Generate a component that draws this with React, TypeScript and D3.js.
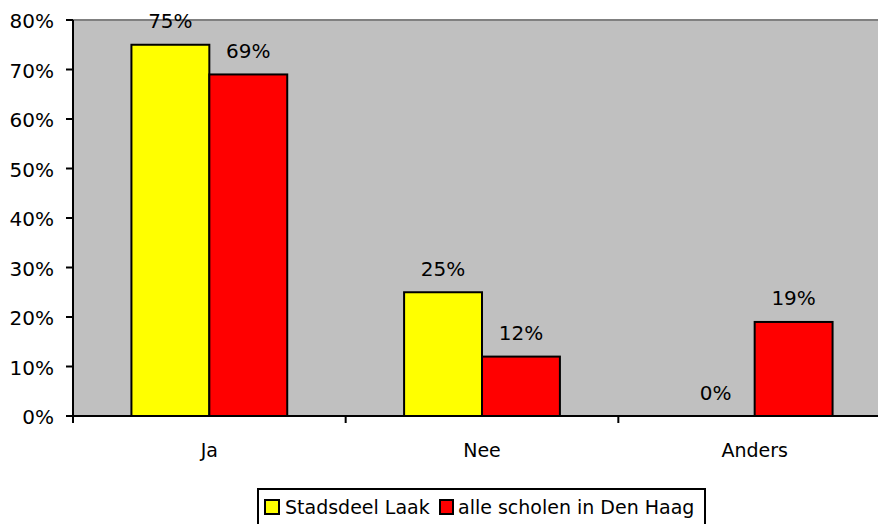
import React from "react";
import * as d3 from "d3";

const categories = ["Ja", "Nee", "Anders"];
const seriesNames = ["Stadsdeel Laak", "alle scholen in Den Haag"];
const laak = [75, 25, 0];
const denHaag = [69, 12, 19];
const yTicks = [0, 10, 20, 30, 40, 50, 60, 70, 80];
const colors = ["#FFFF00", "#FF0000"];

const W = 878;
const H = 524;
const left = 73;
const plotW = 818;
const top = 20;
const bottom = 416;
const font = "DejaVu Sans, Verdana, sans-serif";
const fsNum = 20;
const fsText = 19;

export default function App() {
  const x = d3.scaleBand<string>().domain(categories).range([left, left + plotW]).paddingInner(0).paddingOuter(0);
  const y = d3.scaleLinear().domain([0, 80]).range([bottom, top]);
  const series = [laak, denHaag];
  const bw = x.bandwidth();
  const barW = bw / (2 + 1.5);
  const gap = (bw - 2 * barW) / 2;

  return (
    <svg width={W} height={H} style={{ position: "absolute", left: 0, top: 0 }}>
      <rect x={left} y={top} width={plotW} height={bottom - top} fill="#C0C0C0" />
      <line x1={left} x2={left + plotW} y1={top} y2={top} stroke="#808080" strokeWidth={2} />
      {series.map((vals, si) =>
        categories.map((c, ci) => {
          const v = vals[ci];
          const bx = (x(c) as number) + gap + si * barW;
          return (
            <g key={`${si}-${ci}`}>
              {v > 0 && (
                <rect x={bx} y={y(v)} width={barW} height={bottom - y(v)} fill={colors[si]} stroke="#000" strokeWidth={2} />
              )}
              <text x={bx + barW / 2} y={y(v) - 16.5} textAnchor="middle" fontFamily={font} fontSize={fsNum} fill="#000">
                {v}%
              </text>
            </g>
          );
        })
      )}
      <line x1={left} x2={left} y1={top} y2={bottom} stroke="#000" strokeWidth={2} />
      <line x1={left - 7} x2={left + plotW} y1={bottom} y2={bottom} stroke="#000" strokeWidth={2} />
      {yTicks.map((t) => (
        <g key={t}>
          <line x1={left - 7} x2={left} y1={y(t)} y2={y(t)} stroke="#000" strokeWidth={2} />
          <text x={left - 19} y={y(t) + 8} textAnchor="end" fontFamily={font} fontSize={fsNum} fill="#000">
            {t}%
          </text>
        </g>
      ))}
      {categories.map((c) => (
        <g key={c}>
          <line x1={x(c) as number} x2={x(c) as number} y1={bottom} y2={bottom + 7} stroke="#000" strokeWidth={2} />
          <text x={(x(c) as number) + bw / 2} y={457} textAnchor="middle" fontFamily={font} fontSize={fsText} fill="#000">
            {c}
          </text>
        </g>
      ))}
      <rect x={258} y={489} width={447} height={40} fill="#fff" stroke="#000" strokeWidth={2} />
      <rect x={265} y={500} width={14} height={14} fill={colors[0]} stroke="#000" strokeWidth={2} />
      <text x={285} y={514} fontFamily={font} fontSize={fsText} fill="#000">{seriesNames[0]}</text>
      <rect x={440} y={500} width={13} height={14} fill={colors[1]} stroke="#000" strokeWidth={2} />
      <text x={458} y={514} fontFamily={font} fontSize={fsText} fill="#000">{seriesNames[1]}</text>
    </svg>
  );
}
